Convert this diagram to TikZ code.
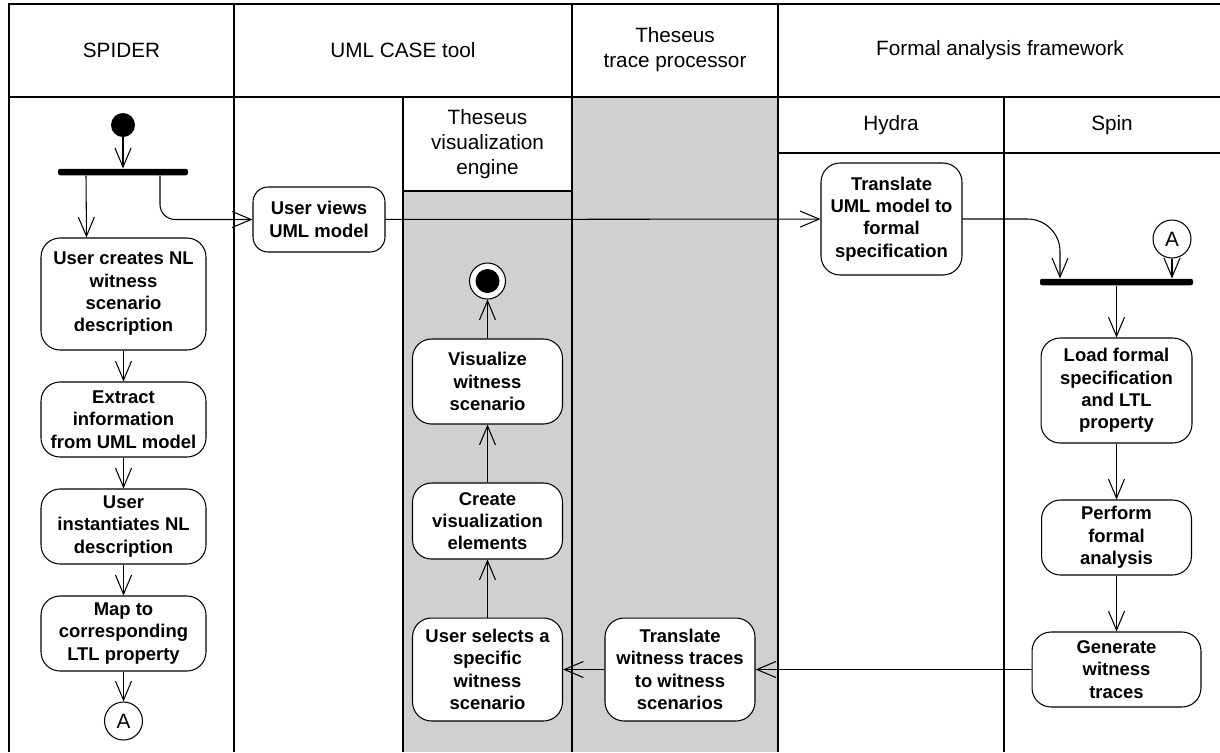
\documentclass[tikz,border=0pt]{standalone}
\usepackage{fontspec}
\setmainfont{Liberation Sans}
\usetikzlibrary{arrows.meta,positioning}
\definecolor{lanegray}{HTML}{D0D0D0}
\newcommand{\actfont}{\fontsize{10.5}{12.7}\selectfont\bfseries}
\newcommand{\lanefont}{\fontsize{11.8}{14.2}\selectfont}
\tikzset{
  act/.style={draw,rounded corners=0.38cm,fill=white,align=center,font=\actfont,inner sep=2pt,minimum width=3cm,minimum height=1.5cm,line width=0.6pt},
  forkbar/.style={fill=black,rounded corners=1.2pt,minimum width=2.6cm,minimum height=0.13cm,inner sep=0pt},
  initnode/.style={circle,fill=black,minimum size=0.48cm,inner sep=0pt},
  endnode/.style={circle,draw,fill=white,line width=0.6pt,minimum size=0.72cm,inner sep=0pt,
    path picture={\fill[black] (path picture bounding box.center) circle (0.24cm);}},
  conn/.style={circle,draw,fill=white,line width=0.6pt,minimum size=0.76cm,inner sep=0pt,font=\lanefont},
  arr/.style={-{Straight Barb[length=0.38cm,width=0.32cm,line width=0.6pt]},line width=0.6pt},
  lane/.style={line width=0.9pt},
  lanetxt/.style={align=center,font=\lanefont}}
\begin{document}
\begin{tikzpicture}[x=0.02cm,y=-0.02cm]
\useasboundingbox (0,0) rectangle (1220,752);
% swimlanes
\fill[lanegray] (403,191) rectangle (572,752);
\fill[lanegray] (572,97) rectangle (778,752);
\draw[lane] (1220,4) -- (9,4) -- (9,752);
\draw[lane] (9,97) -- (1220,97);
\draw[lane] (234,4) -- (234,752);
\draw[lane] (572,4) -- (572,752);
\draw[lane] (778,4) -- (778,752);
\draw[lane] (403,97) -- (403,752);
\draw[lane] (403,191) -- (572,191);
\draw[lane] (778,153) -- (1220,153);
\draw[lane] (1004,97) -- (1004,752);
\node[lanetxt] (hspider) at (121.5,50) {SPIDER};
\node[lanetxt] (huml) at (403,50) {UML CASE tool};
\node[lanetxt] (htrace) at (675,50) {Theseus\\trace processor};
\node[lanetxt] (hformal) at (1000,50) {Formal analysis framework};
\node[lanetxt] (hvis) at (487.5,144) {Theseus\\visualization\\engine};
\node[lanetxt] (hhydra) at (891,125) {Hydra};
\node[lanetxt] (hspin) at (1112,125) {Spin};
% SPIDER
\node[initnode] (init) at (123,125) {};
\node[forkbar] (fork) at (123,172) {};
\node[act,minimum width=3.3cm,minimum height=2.24cm] (create) at (123.5,294) {User creates NL\\witness\\scenario\\description};
\node[act,minimum width=3.3cm] (extract) at (123.5,419.5) {Extract\\information\\from UML model};
\node[act,minimum width=3.3cm] (inst) at (123.5,526.5) {User\\instantiates NL\\description};
\node[act,minimum width=3.3cm] (map) at (123.5,633.5) {Map to\\corresponding\\LTL property};
\node[conn] (conA) at (123.5,721) {A};
% UML CASE tool
\node[act,minimum width=2.64cm,minimum height=1.3cm,rounded corners=0.3cm] (views) at (319,219.5) {User views\\UML model};
% Theseus visualization engine
\node[endnode] (final) at (487.5,281) {};
\node[act,minimum height=1.7cm] (visu) at (487.5,381.5) {Visualize\\witness\\scenario};
\node[act,minimum height=1.52cm] (velem) at (487.5,521) {Create\\visualization\\elements};
\node[act,minimum height=2.06cm] (select) at (487.5,669.5) {User selects a\\specific\\witness\\scenario};
% Theseus trace processor
\node[act,minimum height=2.06cm] (trtrace) at (680,669.5) {Translate\\witness traces\\to witness\\scenarios};
% Hydra
\node[act,minimum width=2.82cm,minimum height=2.24cm] (truml) at (891.5,219) {Translate\\UML model to\\formal\\specification};
% Spin
\node[forkbar,minimum width=3.06cm] (join) at (1116.5,282) {};
\node[conn] (conB) at (1172,239) {A};
\node[act,minimum width=3.02cm,minimum height=2.1cm] (load) at (1116.5,390.5) {Load formal\\specification\\and LTL\\property};
\node[act] (perform) at (1116.5,537.5) {Perform\\formal\\analysis};
\node[act,minimum width=3.38cm] (gen) at (1116.5,669.5) {Generate\\witness\\traces};
% flows
\draw[arr] (init) -- (fork);
\draw[arr] ([xshift=-0.74cm]fork.south) -- ([xshift=-0.74cm]create.north);
\draw[arr,rounded corners=0.3cm] ([xshift=0.74cm]fork.south) |- (views.west);
\draw[arr] (create) -- (extract);
\draw[arr] (extract) -- (inst);
\draw[arr] (inst) -- (map);
\draw[arr] (map) -- (conA);
\draw[arr] (views) -- (truml);
\draw[arr,rounded corners=0.65cm] (truml.east) -| ([xshift=-1.13cm]join.north);
\draw[arr] (conB) -- (conB |- join.north);
\draw[arr] (join) -- (load);
\draw[arr] (load) -- (perform);
\draw[arr] (perform) -- (gen);
\draw[arr] (gen) -- (trtrace);
\draw[arr] (trtrace) -- (select);
\draw[arr] (select) -- (velem);
\draw[arr] (velem) -- (visu);
\draw[arr] (visu) -- (final);
\end{tikzpicture}
\end{document}
